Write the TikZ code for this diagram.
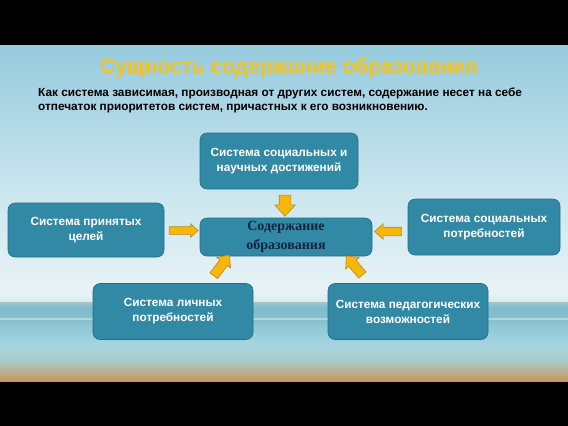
\documentclass[tikz,border=0pt]{standalone}
\usepackage{fontspec}
\setmainfont{Liberation Sans}
\newfontfamily\serifbold{Liberation Serif}
\usetikzlibrary{shapes.arrows,calc}
\definecolor{skytop}{HTML}{96CADD}
\definecolor{skymid}{HTML}{CDE7EF}
\definecolor{skylow}{HTML}{E8F3F6}
\definecolor{horizon}{HTML}{A2C4CC}
\definecolor{sea}{HTML}{7EBCCC}
\definecolor{sealight}{HTML}{A5D5E0}
\definecolor{sand}{HTML}{C8985C}
\definecolor{boxfill}{HTML}{3289A6}
\definecolor{boxedge}{HTML}{236F89}
\definecolor{titlegold}{HTML}{F5C31C}
\definecolor{arrowfill}{HTML}{F7B70A}
\definecolor{arrowedge}{HTML}{B98A1E}
\definecolor{navy}{HTML}{14243C}
\tikzset{
  sysbox/.style={draw=boxedge, fill=boxfill, line width=0.6pt, rounded corners=7pt,
    text=white, align=center, font=\bfseries\fontsize{11.8}{15}\selectfont, inner sep=2pt},
  blockarrow/.style n args={3}{single arrow, draw=arrowedge, fill=arrowfill, line width=0.6pt,
    minimum height=#1, inner sep=#2, single arrow head extend=#3,
    single arrow tip angle=85},
}
\begin{document}
\begin{tikzpicture}[x=1pt,y=-1pt]
\useasboundingbox (0,0) rectangle (568,426);
\fill[black] (0,0) rectangle (568,426);
% background
\shade[top color=skytop, bottom color=skymid] (0,45) rectangle (568,200);
\shade[top color=skymid, bottom color=skylow] (0,200) rectangle (568,292);
\shade[top color=skylow, bottom color=skylow!80!horizon] (0,292) rectangle (568,302);
\shade[top color=horizon, bottom color=sea] (0,302) rectangle (568,308);
\shade[top color=sea, bottom color=sea!70!sealight] (0,308) rectangle (568,324);
\fill[white, opacity=0.35] (0,318) rectangle (568,320);
\shade[top color=sea!60!sealight, bottom color=sealight] (0,324) rectangle (568,345);
\shade[top color=sealight, bottom color=sealight!85!sand] (0,345) rectangle (568,360);
\shade[top color=sealight!85!sand, bottom color=sand] (0,360) rectangle (568,381);
% title and subtitle
\node[anchor=base, text=titlegold, font=\bfseries\fontsize{21}{24}\selectfont] (title) at (289,73)
  {Сущность содержание образования};
\node[anchor=base west, align=left, inner sep=0pt, font=\bfseries\fontsize{11.8}{14}\selectfont] (sub) at (38,110)
  {Как система зависимая, производная от других систем, содержание несет на себе\\
   отпечаток приоритетов систем, причастных к его возникновению.};
% boxes
\node[sysbox, minimum width=158pt, minimum height=56pt] (topbox) at (279,161)
  {Система социальных и\\научных достижений};
\node[sysbox, minimum width=172pt, minimum height=38pt, text=navy,
  font=\serifbold\bfseries\fontsize{14}{19}\selectfont] (center) at (286,237)
  {Содержание\\образования};
\node[sysbox, minimum width=156pt, minimum height=54pt] (left) at (86,230)
  {Система принятых\\целей};
\node[sysbox, minimum width=152pt, minimum height=56pt] (right) at (484,227)
  {Система социальных\\потребностей};
\node[sysbox, minimum width=160pt, minimum height=56pt] (bl) at (173,311.5)
  {Система личных\\потребностей};
\node[sysbox, minimum width=160pt, minimum height=56pt] (br) at (408,311.5)
  {Система педагогических\\возможностей};
% arrows
\node[blockarrow={21pt}{5.5pt}{4.5pt}, rotate=-90] (a1) at (285,202.5) {};
\node[blockarrow={29pt}{3.5pt}{3pt}] (a2) at (181.5,230.5) {};
\node[blockarrow={27pt}{4pt}{3.5pt}, rotate=180] (a3) at (390.5,231.5) {};
\node[blockarrow={26pt}{4.5pt}{4pt}, rotate=53] (a4) at (220,267.5) {};
\node[blockarrow={25pt}{4.5pt}{4pt}, rotate=130] (a5) at (356,267.5) {};
\end{tikzpicture}
\end{document}
